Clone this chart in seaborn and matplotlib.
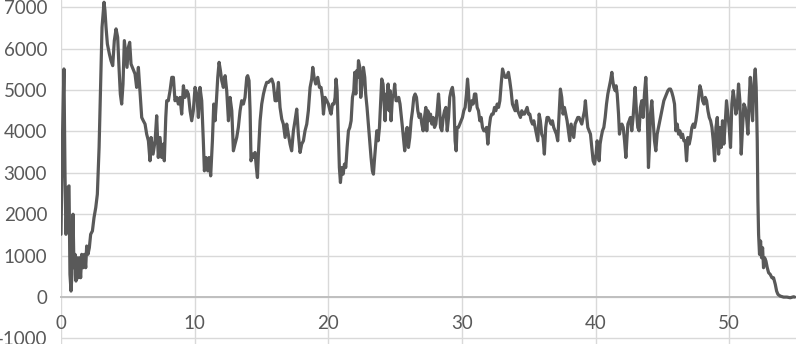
import matplotlib

matplotlib.use("Agg")

import pandas as pd
import seaborn as sns
from matplotlib import pyplot as plt

# values
x_values = [
    0.00, 0.10, 0.22, 0.30, 0.37, 0.50, 0.60, 0.67, 0.75, 0.82, 0.90, 0.97, 1.05, 1.12, 1.20,
    1.30, 1.37, 1.47, 1.55, 1.65, 1.75, 1.85, 1.92, 2.02, 2.12, 2.22, 2.35, 2.47, 2.60, 2.72,
    2.85, 2.97, 3.07, 3.22, 3.29, 3.37, 3.47, 3.62, 3.74, 3.87, 3.99, 4.12, 4.24, 4.34, 4.44,
    4.54, 4.64, 4.74, 4.84, 4.94, 5.04, 5.14, 5.24, 5.34, 5.44, 5.54, 5.66, 5.79, 5.91, 6.04,
    6.16, 6.29, 6.41, 6.54, 6.66,
    6.74, 6.89, 7.04, 7.16, 7.28, 7.41, 7.54, 7.66, 7.73, 7.84, 7.91, 8.03, 8.16, 8.29, 8.41,
    8.53, 8.66, 8.78, 8.91, 9.03, 9.16, 9.28, 9.41, 9.53, 9.66, 9.78, 9.90, 10.03, 10.16, 10.28,
    10.40, 10.53, 10.65, 10.73, 10.85, 10.98, 11.08, 11.20, 11.33, 11.43, 11.53, 11.63, 11.73,
    11.83, 11.93, 12.03, 12.15, 12.28, 12.40, 12.53, 12.65, 12.78, 12.90,
    13.02, 13.15, 13.27, 13.40, 13.52, 13.65, 13.77, 13.90, 13.97, 14.07, 14.15, 14.22, 14.32,
    14.42, 14.52, 14.62, 14.70, 14.77, 14.90, 15.02, 15.15, 15.27, 15.39, 15.52, 15.64, 15.77,
    15.89, 16.02, 16.14, 16.27, 16.39, 16.52, 16.64, 16.77, 16.89, 17.01, 17.14, 17.26, 17.39,
    17.51, 17.64, 17.76, 17.89, 18.01, 18.14, 18.26, 18.39, 18.51, 18.64, 18.76, 18.84, 18.94,
    19.06, 19.21, 19.34, 19.46, 19.56, 19.64, 19.76, 19.89,
    20.01, 20.13, 20.21, 20.31, 20.43, 20.51, 20.58, 20.66, 20.76, 20.83, 20.91, 21.01, 21.11,
    21.21, 21.31, 21.41, 21.51, 21.61, 21.71, 21.81, 21.91, 21.98, 22.06, 22.13, 22.21, 22.26,
    22.36, 22.43, 22.53, 22.63, 22.73, 22.80, 22.90, 23.00, 23.10, 23.20, 23.30, 23.38, 23.45,
    23.55, 23.63, 23.73, 23.83, 23.90, 24.00, 24.10, 24.18, 24.25, 24.33, 24.40, 24.48, 24.55,
    24.63, 24.70, 24.80, 24.90, 24.97, 25.07, 25.17, 25.27, 25.37, 25.45, 25.55, 25.65, 25.72,
    25.82, 25.90, 26.00, 26.10, 26.20, 26.30, 26.40, 26.50,
    26.60, 26.70, 26.80, 26.90, 27.00, 27.10, 27.20, 27.30, 27.37, 27.45, 27.55, 27.65, 27.75,
    27.85, 27.95, 28.05, 28.15, 28.25, 28.32, 28.40, 28.50, 28.60, 28.70, 28.80, 28.90, 29.00,
    29.09, 29.19, 29.29, 29.39, 29.49, 29.57, 29.64, 29.74, 29.84, 29.94, 30.04, 30.14, 30.24,
    30.34, 30.42, 30.49, 30.57, 30.64, 30.74, 30.84, 30.94, 31.04, 31.14, 31.24, 31.34, 31.44,
    31.54, 31.64, 31.74, 31.84, 31.94, 32.04, 32.14, 32.24, 32.34, 32.44, 32.54, 32.64, 32.74,
    32.84, 32.94, 33.04, 33.14, 33.24,
    33.35, 33.48, 33.58, 33.68, 33.78, 33.88, 33.98, 34.08, 34.18, 34.28, 34.38, 34.48, 34.58,
    34.68, 34.78, 34.88, 34.98, 35.08, 35.18, 35.28, 35.38, 35.48, 35.58, 35.68, 35.78, 35.87,
    35.97, 36.07, 36.17, 36.27, 36.37, 36.47, 36.57, 36.67, 36.77, 36.87, 36.97, 37.07, 37.17,
    37.27, 37.37, 37.47, 37.57, 37.67, 37.77, 37.87, 37.97, 38.07, 38.17, 38.27, 38.37, 38.47,
    38.57, 38.67, 38.77, 38.87, 38.97, 39.07, 39.17, 39.24, 39.32, 39.42, 39.52, 39.62, 39.72,
    39.82, 39.92,
    40.04, 40.12, 40.19, 40.27, 40.34, 40.42, 40.52, 40.62, 40.72, 40.82, 40.92, 41.02, 41.12,
    41.22, 41.29, 41.37, 41.47, 41.54, 41.62, 41.72, 41.79, 41.87, 41.97, 42.07, 42.17, 42.27,
    42.34, 42.42, 42.52, 42.61, 42.71, 42.81, 42.89, 42.96, 43.06, 43.16, 43.26, 43.36, 43.46,
    43.56, 43.66, 43.76, 43.86, 43.96, 44.04, 44.11, 44.21, 44.31, 44.41, 44.51, 44.61, 44.71,
    44.81, 44.91, 45.01, 45.11, 45.21, 45.31, 45.41, 45.51, 45.61, 45.71, 45.81, 45.91, 46.01,
    46.11, 46.21, 46.31, 46.41, 46.51, 46.61,
    46.71, 46.81, 46.91, 47.01, 47.11, 47.21, 47.31, 47.41, 47.51, 47.61, 47.71, 47.81, 47.91,
    48.01, 48.11, 48.21, 48.31, 48.41, 48.51, 48.61, 48.71, 48.81, 48.91, 49.01, 49.11, 49.21,
    49.30, 49.40, 49.50, 49.60, 49.70, 49.80, 49.90, 50.00, 50.10, 50.20, 50.30, 50.40, 50.50,
    50.60, 50.70, 50.80, 50.90, 51.00, 51.10, 51.20, 51.30, 51.40, 51.50, 51.58, 51.65, 51.75,
    51.85, 51.95, 52.02, 52.10, 52.15, 52.20, 52.27, 52.35, 52.42, 52.50, 52.57, 52.65, 52.75,
    52.85, 52.95, 53.07, 53.20, 53.32, 53.45, 53.55, 53.65, 53.82, 54.07, 54.32, 54.57, 54.82,
    54.90,
]

y_values = [
    1517, 3695, 5510, 2969, 1517, 2646, 2686, 549, 145, 549, 2001, 709, 1033, 387, 951,
    467, 951, 467, 1033, 709, 1033, 709, 1234, 1033, 1193, 1517, 1597, 1919, 2161, 2485,
    3613, 5147, 6517, 7122, 6921, 6517, 6115, 5873, 5711, 5590, 6195, 6478, 6275, 5549, 4905,
    4663, 5147, 6195, 5873, 5549, 6033, 6154, 5630, 5549, 5469, 5389, 5065, 5549, 4985, 4339,
    4259, 4179, 3937, 3775, 3291,
    3856, 3453, 3775, 4380, 3372, 3856, 3372, 3695, 3291, 4339, 4743, 4743, 4985, 5308, 5308,
    4743, 4824, 4663, 4824, 4420, 5105, 4824, 4985, 4905, 4501, 4259, 4501, 5065, 4905, 4339,
    5065, 4743, 3775, 3049, 3372, 3049, 3372, 2928, 3775, 4663, 4259, 4743, 5308,
    5671, 5469, 5227, 5065, 5348, 4985, 4259, 4824, 4501, 3533,
    3695, 3856, 4098, 4501, 4743, 4663, 4824, 5308, 5348, 5227, 4501, 3291, 3453,
    3372, 3493, 3130, 2888, 3453, 4259, 4663, 4905, 5065, 5186, 5186, 5227, 5267,
    5147, 4743, 4743, 5186, 4582, 4299, 4179, 3856, 4179, 3936, 3695, 3533, 4017,
    4259, 4541, 3936, 3493, 3695, 3775, 4017, 4179, 4501, 5065, 5267, 5549, 5308,
    5147, 5308, 5065, 5065, 4824, 4420, 4824, 4743,
    4663, 4501, 4420, 4663, 4663, 4824, 5267, 4985, 3936, 3130, 2767, 3130, 2969,
    3211, 3130, 3614, 4017, 4098, 4259, 4824, 4985, 5429, 4905, 5469, 5308, 5711,
    5549, 4824, 5147, 5549, 5308, 4905, 4582, 4179, 3775, 3372, 3049, 2969, 3291,
    3695, 4017, 3775, 4098, 4582, 5267, 5147, 4663, 4259, 4905, 4743, 5147, 4501,
    4985, 4259, 4824, 4905, 5147, 4743, 4743, 4824, 4663, 4420, 4098, 3775, 3533,
    3936, 4098, 3614, 3856, 4259, 4501, 4824, 4905,
    4824, 4501, 4339, 4420, 4179, 4017, 4339, 4582, 4017, 4501, 4259, 4420, 4179,
    4339, 4098, 4179, 4501, 4905, 4582, 4098, 4017, 4339, 4501, 4582, 4017, 4339,
    4824, 4985, 5065, 4824, 3775, 3533, 4098, 4098, 4179, 4259, 4339, 4501, 4582,
    4905, 5267, 4985, 4501, 4582, 4743, 4663, 4905, 4905, 4582, 4501, 4259, 4339,
    4098, 4017, 4017, 4098, 3695, 4098, 4339, 4420, 4420, 4582, 4501, 4663, 4582,
    4743, 5147, 5510, 5389, 5308,
    5308, 5429, 5227, 4985, 4663, 4582, 4501, 4743, 4501, 4420, 4339, 4501, 4420,
    4420, 4501, 4582, 4420, 4420, 4259, 4179, 4259, 4098, 3936, 3775, 4420, 4259,
    3936, 3856, 3453, 4098, 4339, 4339, 4259, 4179, 4259, 4098, 4017, 3936, 3775,
    4420, 5025, 4824, 4420, 4582, 4420, 4259, 4017, 3775, 4179, 4017, 3856, 4179,
    4259, 4339, 4339, 4259, 4179, 4339, 4501, 4743, 4420, 4098, 4017, 3936, 3614,
    3291, 3211,
    3453, 3775, 3614, 3291, 3695, 3856, 4017, 4098, 4339, 4663, 4905, 5065, 5227,
    5429, 5227, 5065, 4985, 5105, 4905, 4420, 3936, 4098, 4179, 4098, 3775, 3372,
    3775, 4179, 4259, 4339, 4017, 4339, 4743, 5065, 4501, 4098, 4017, 4582, 4743,
    4339, 4905, 5308, 4582, 3130, 3695, 4420, 4743, 4259, 3775, 3533, 3936, 4098,
    4259, 4420, 4582, 4743, 4824, 4905, 4985, 5025, 5025, 4945, 4824, 4663, 4017,
    4179, 3936, 4017, 3856, 3936, 3775,
    3775, 3291, 3856, 3695, 3856, 4098, 4179, 4098, 4259, 4501, 4824, 5105, 4985,
    4743, 4663, 4824, 4743, 4501, 4339, 4259, 4098, 3775, 3291, 4098, 4339, 3453,
    4098, 3614, 4259, 3695, 4179, 4743, 4420, 4098, 3614, 4663, 4985, 4743, 4420,
    4582, 5147, 4743, 3453, 4098, 4663, 4582, 4339, 3936, 4824, 5308, 4743, 4259,
    5147, 5510, 5065, 3775, 2323, 1517, 1033, 1355, 951, 1193, 709, 951, 871,
    709, 589, 549, 467, 467, 307, 145, 65, 24, 0, 0, -16, 8,
    0,
]

x_ticks = [0, 10, 20, 30, 40, 50]
y_ticks = [-1000, 0, 1000, 2000, 3000, 4000, 5000, 6000, 7000]

line_color = "#595959"
grid_color = "#d9d9d9"
text_color = "#595959"

frame = pd.DataFrame({"x": x_values, "y": y_values})

sns.set_style("white")
plt.rcParams["font.family"] = ["Lato", "DejaVu Sans"]
plt.rcParams["axes.unicode_minus"] = False

fig = plt.figure(figsize=(7.96, 3.44), dpi=100)
ax = fig.add_axes([61 / 796, 0.0, 1 - 61 / 796, 1.0])

sns.lineplot(data=frame, x="x", y="y", estimator=None, sort=False,
             color=line_color, linewidth=2.3, ax=ax, zorder=3)

ax.set_xlim(0, 55)
ax.set_ylim(-1133, 7176)
ax.set_xticks(x_ticks)
ax.set_yticks(y_ticks)
ax.set_xticklabels([str(t) for t in x_ticks])
ax.set_yticklabels([str(t) for t in y_ticks])
ax.set_xlabel("")
ax.set_ylabel("")

ax.grid(True, color=grid_color, linewidth=1.0)
ax.set_axisbelow(True)

for side in ["left", "top", "right"]:
    ax.spines[side].set_visible(False)
ax.spines["bottom"].set_position(("data", 0))
ax.spines["bottom"].set_color("#bfbfbf")
ax.spines["bottom"].set_linewidth(1.4)
ax.spines["bottom"].set_zorder(2)

ax.tick_params(axis="x", length=0, pad=13, labelsize=13.5, labelcolor=text_color)
ax.tick_params(axis="y", length=0, pad=10, labelsize=13.5, labelcolor=text_color)

fig.savefig("out.png", dpi=100)
plt.close(fig)
